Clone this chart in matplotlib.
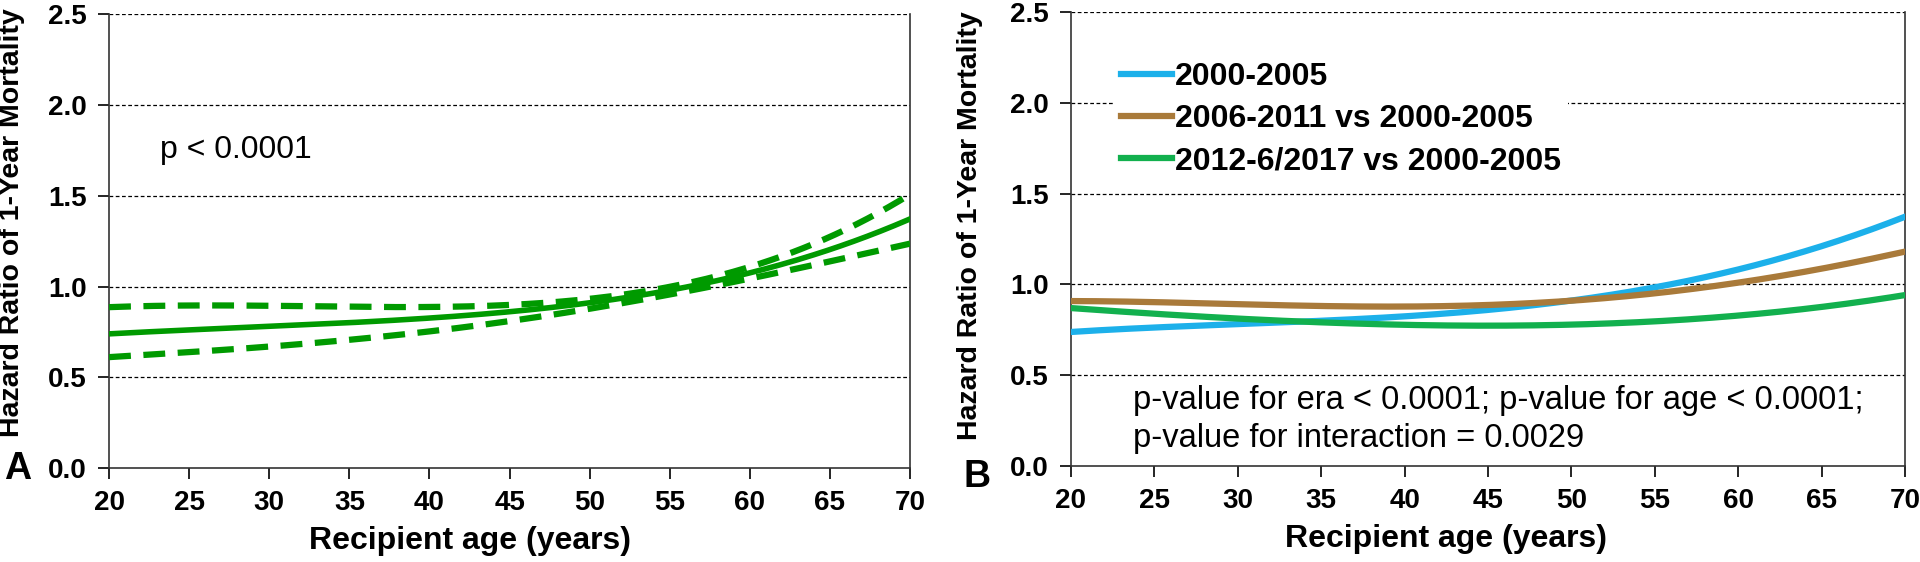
import numpy as np
import matplotlib.pyplot as plt

age = [20, 25, 30, 35, 40, 45, 50, 55, 60, 65, 70]

# panel A: hazard ratio with 95% CI
hr_a = [0.74, 0.76, 0.78, 0.80, 0.83, 0.86, 0.91, 0.98, 1.07, 1.21, 1.37]
hr_a_hi = [0.89, 0.89, 0.89, 0.89, 0.895, 0.905, 0.93, 0.98, 1.11, 1.29, 1.50]
hr_a_lo = [0.61, 0.64, 0.67, 0.71, 0.75, 0.80, 0.88, 0.97, 1.04, 1.13, 1.24]

# panel B: era curves
era_labels = ["2000-2005", "2006-2011 vs 2000-2005", "2012-6/2017 vs 2000-2005"]
era_1 = [0.74, 0.76, 0.78, 0.80, 0.83, 0.86, 0.91, 0.98, 1.08, 1.22, 1.37]
era_2 = [0.91, 0.90, 0.89, 0.885, 0.88, 0.885, 0.91, 0.95, 1.01, 1.09, 1.18]
era_3 = [0.87, 0.84, 0.81, 0.79, 0.78, 0.775, 0.78, 0.79, 0.83, 0.88, 0.94]
era_colors = ["#1cb0ea", "#a97a3a", "#12b04e"]

xticks = np.arange(20, 71, 5)
yticks = [0.0, 0.5, 1.0, 1.5, 2.0, 2.5]

FAM = ["Liberation Sans"]

def smooth(x, y):
    xs = np.linspace(x[0], x[-1], 300)
    coef = np.polyfit(x, y, 4)
    return xs, np.polyval(coef, xs)

def style(ax, ylab_y):
    ax.set_xlim(20, 70)
    ax.set_ylim(0, 2.5)
    ax.set_xticks(xticks)
    ax.set_yticks(yticks)
    ax.set_xticklabels([str(v) for v in xticks], fontsize=20, fontweight="bold", family=FAM)
    ax.set_yticklabels(["%.1f" % v for v in yticks], fontsize=20, fontweight="bold", family=FAM)
    ax.tick_params(axis="both", direction="out", length=8, width=1.2, pad=8)
    for v in yticks[1:]:
        ax.axhline(v, color="black", lw=0.9, ls=(0, (3, 2)), zorder=1)
    ax.spines["top"].set_visible(False)
    for s in ["left", "bottom", "right"]:
        ax.spines[s].set_linewidth(1.2)
        ax.spines[s].set_color("#333333")
    ax.set_xlabel("Recipient age (years)", fontsize=23, fontweight="bold", family=FAM)
    ax.xaxis.set_label_coords(0.45, -0.128)
    ax.set_ylabel("Hazard Ratio of 1-Year Mortality", fontsize=20.5, fontweight="bold", family=FAM)
    ax.yaxis.set_label_coords(-0.105, ylab_y)

fig = plt.figure(figsize=(19.2, 5.62), dpi=100)
ax1 = fig.add_axes([0.0568, 0.167, 0.4172, 0.808])
ax2 = fig.add_axes([0.5578, 0.171, 0.4344, 0.807])

# panel A
style(ax1, 0.54)
green = "#009a00"
ax1.plot(*smooth(age, hr_a), color=green, lw=4, zorder=3)
ax1.plot(*smooth(age, hr_a_hi), color=green, lw=4.5, ls=(0, (3.5, 2)), zorder=3)
ax1.plot(*smooth(age, hr_a_lo), color=green, lw=4.5, ls=(0, (3.5, 2)), zorder=3)
ax1.text(23.2, 1.75, "p < 0.0001", fontsize=23, family=FAM, va="center", ha="left")
fig.text(0.002, 0.165, "A", fontsize=27, fontweight="bold", family=FAM, va="center")

# panel B
style(ax2, 0.53)
for y, c, lab in zip([era_1, era_2, era_3], era_colors, era_labels):
    ax2.plot(*smooth(age, y), color=c, lw=4.5, label=lab, zorder=3)
leg = ax2.legend(loc="upper left", bbox_to_anchor=(0.033, 0.94), frameon=True, fancybox=False,
                 edgecolor="none", facecolor="white", framealpha=1,
                 handlelength=1.6, handletextpad=0.1, labelspacing=0.38, borderpad=0.2,
                 prop={"family": FAM, "weight": "bold", "size": 23})
leg.set_zorder(5)
ax2.text(23.7, 0.36, "p-value for era < 0.0001; p-value for age < 0.0001;", fontsize=23.5,
         family=FAM, va="center")
ax2.text(23.7, 0.15, "p-value for interaction = 0.0029", fontsize=23.5, family=FAM, va="center")
fig.text(0.502, 0.152, "B", fontsize=27, fontweight="bold", family=FAM, va="center")

fig.savefig("out.png", dpi=100)
